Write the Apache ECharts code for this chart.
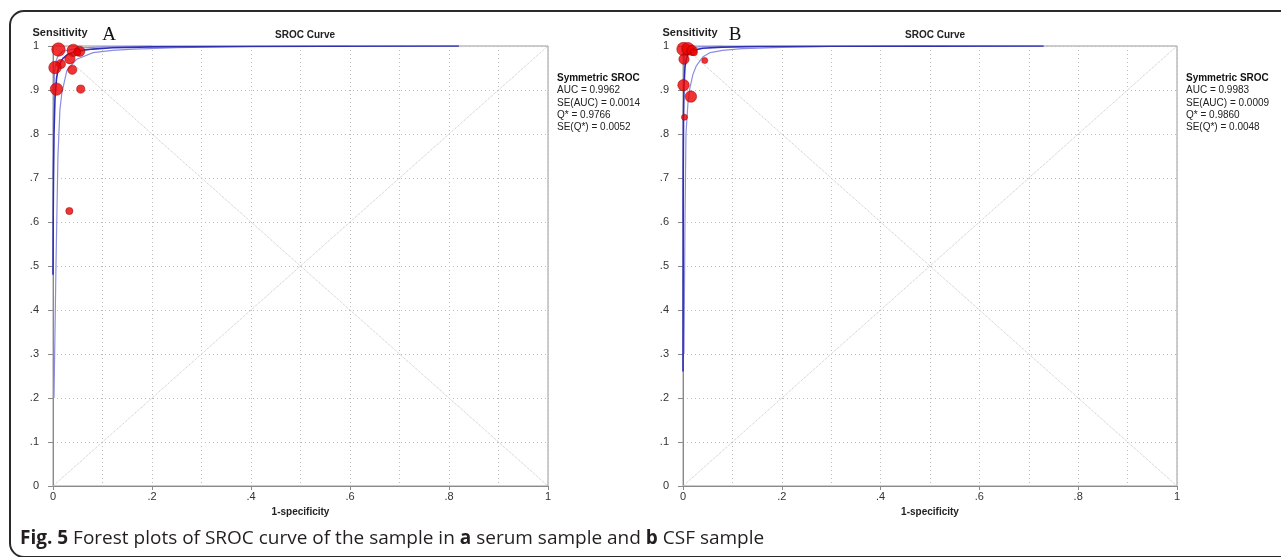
<!DOCTYPE html>
<html><head><meta charset="utf-8">
<script src="https://cdn.jsdelivr.net/npm/echarts@6/dist/echarts.min.js"></script>
<style>html,body{margin:0;padding:0;background:#fff}#c{width:1281px;height:557px}</style>
</head><body><div id="c"></div>
<script>
// ---- tick labels ----
const yTickLabels = ['0','.1','.2','.3','.4','.5','.6','.7','.8','.9','1'];
const xTickLabels = ['0','.2','.4','.6','.8','1'];

// ---- panel A (serum): studies [1-specificity, sensitivity, weight] ----
const studiesA = [
  [0.011, 0.992, 5.0], [0.041, 0.990, 4.4], [0.054, 0.988, 3.1], [0.049, 0.986, 1.3],
  [0.034, 0.971, 3.1], [0.016, 0.959, 2.5], [0.004, 0.951, 4.4], [0.039, 0.946, 2.5],
  [0.007, 0.902, 4.4], [0.056, 0.902, 1.9], [0.033, 0.625, 1.3]
];
// SROC curve A and its bounds
const curveA = [[0,0.48],[0.0005,0.63],[0.001,0.70],[0.002,0.80],[0.004,0.88],[0.007,0.925],[0.01,0.946],[0.015,0.962],[0.02,0.972],[0.03,0.981],[0.05,0.989],[0.08,0.993],[0.12,0.996],[0.2,0.998],[0.35,0.999],[0.55,0.9995],[0.82,1.0]];
const curveALow = [[0.002,0.2],[0.006,0.5],[0.01,0.75],[0.014,0.856],[0.018,0.894],[0.028,0.944],[0.048,0.970],[0.081,0.985],[0.12,0.99],[0.162,0.993],[0.25,0.996],[0.4,0.999],[0.6,1.0]];
const curveAHigh = [[0,0.7],[0.001,0.85],[0.003,0.94],[0.006,0.965],[0.01,0.978],[0.02,0.988],[0.05,0.995],[0.1,0.998],[0.2,1.0]];
const statsA = ['Symmetric SROC','AUC = 0.9962','SE(AUC) = 0.0014','Q* = 0.9766','SE(Q*) = 0.0052'];

// ---- panel B (CSF) ----
const studiesB = [
  [0.001, 0.993, 5.0], [0.010, 0.994, 4.4], [0.018, 0.990, 3.1], [0.022, 0.986, 1.3],
  [0.002, 0.970, 3.1], [0.044, 0.967, 0.6], [0.001, 0.911, 3.8], [0.016, 0.885, 3.8],
  [0.003, 0.838, 0.6]
];
const curveB = [[0,0.26],[0.0005,0.71],[0.001,0.83],[0.002,0.91],[0.004,0.952],[0.007,0.972],[0.01,0.98],[0.02,0.99],[0.04,0.995],[0.08,0.9975],[0.15,0.9988],[0.3,0.9995],[0.5,0.9998],[0.73,1.0]];
const curveBLow = [[0.002,0.3],[0.004,0.6],[0.006,0.8],[0.01,0.87],[0.014,0.905],[0.02,0.935],[0.027,0.955],[0.04,0.975],[0.055,0.985],[0.08,0.99],[0.12,0.994],[0.2,0.997],[0.3,0.999],[0.5,1.0]];
const curveBHigh = [[0,0.6],[0.001,0.92],[0.003,0.975],[0.01,0.993],[0.03,0.998],[0.08,1.0]];
const statsB = ['Symmetric SROC','AUC = 0.9983','SE(AUC) = 0.0009','Q* = 0.9860','SE(Q*) = 0.0048'];

const diagonal = [[0,0],[1,1]];
const antiDiagonal = [[0,1],[1,0]];
const panelLetters = ['A','B'];
const titleText = 'SROC Curve';
const yName = 'Sensitivity';
const xName = '1-specificity';
const captionBold1 = 'Fig. 5';
const captionText = ' Forest plots of SROC curve of the sample in ';
const captionA = 'a';
const captionMid = ' serum sample and ';
const captionB = 'b';
const captionEnd = ' CSF sample';

// ---- layout ----
const SANS = 'Liberation Sans, Arial, sans-serif';
const CAPFONT = 'Open Sans, Liberation Sans, sans-serif';
const grids = [
  {left: 53, top: 46, width: 495, height: 440},
  {left: 683, top: 46, width: 494, height: 440}
];
const gridLine = {type: [1, 3], color: '#bdbdbd', width: 1};

function xAxisFor(i) {
  return {
    type: 'value', gridIndex: i, min: 0, max: 1, interval: 0.2,
    axisLine: {show: true, onZero: false, lineStyle: {color: '#8a8a8a'}},
    axisTick: {show: true, length: 4, lineStyle: {color: '#8a8a8a'}},
    axisLabel: {formatter: v => xTickLabels[Math.round(v * 5)], color: '#333', fontSize: 11, margin: 5, fontFamily: SANS},
    splitLine: {show: true, lineStyle: gridLine},
    minorTick: {show: false, splitNumber: 2},
    minorSplitLine: {show: true, lineStyle: gridLine},
    name: xName, nameLocation: 'middle', nameGap: 16,
    nameTextStyle: {fontWeight: 'bold', fontSize: 10, color: '#222', fontFamily: SANS}
  };
}
function yAxisFor(i) {
  return {
    type: 'value', gridIndex: i, min: 0, max: 1, interval: 0.1,
    axisLine: {show: true, onZero: false, lineStyle: {color: '#8a8a8a'}},
    axisTick: {show: true, length: 5, lineStyle: {color: '#8a8a8a'}},
    axisLabel: {formatter: v => yTickLabels[Math.round(v * 10)], color: '#333', fontSize: 11, margin: 14, fontFamily: SANS},
    splitLine: {show: true, lineStyle: gridLine}
  };
}
function sizeOf(w) { return 5 + 1.7 * w; }

function panelSeries(i, studies, main, low, high) {
  const ref = {type: 'dotted', color: '#c4c4c4', width: 1};
  return [
    {type: 'line', xAxisIndex: i, yAxisIndex: i, data: diagonal, showSymbol: false, lineStyle: ref, silent: true, z: 1},
    {type: 'line', xAxisIndex: i, yAxisIndex: i, data: antiDiagonal, showSymbol: false, lineStyle: ref, silent: true, z: 1},
    {type: 'line', xAxisIndex: i, yAxisIndex: i, data: low, showSymbol: false, lineStyle: {color: '#8c8ce0', width: 1.2}, z: 3},
    {type: 'line', xAxisIndex: i, yAxisIndex: i, data: high, showSymbol: false, lineStyle: {color: '#8c8ce0', width: 1.2}, z: 3},
    {type: 'line', xAxisIndex: i, yAxisIndex: i, data: main, showSymbol: false, lineStyle: {color: '#2f2fb4', width: 1.6}, z: 4},
    {type: 'scatter', xAxisIndex: i, yAxisIndex: i, data: studies, symbolSize: d => sizeOf(d[2]),
     itemStyle: {color: '#ee0000', borderColor: '#8a0000', borderWidth: 0.6}, z: 5, clip: false}
  ];
}

function statsGraphic(x, lines) {
  return {
    type: 'text', left: x, top: 72,
    style: {
      text: '{b|' + lines[0] + '}\n' + lines.slice(1).join('\n'),
      fontSize: 10, fontFamily: SANS, fill: '#222', lineHeight: 12.3,
      rich: {b: {fontWeight: 'bold', fontSize: 10, fontFamily: SANS, fill: '#111', lineHeight: 12.3}}
    }
  };
}

const chart = echarts.init(document.getElementById('c'), null, {renderer: 'canvas'});
chart.setOption({
  animation: false,
  backgroundColor: '#fff',
  title: [
    {text: titleText, left: 300, top: 25, textAlign: 'center', textStyle: {fontSize: 10, fontWeight: 'bold', color: '#222', fontFamily: SANS}},
    {text: titleText, left: 930, top: 25, textAlign: 'center', textStyle: {fontSize: 10, fontWeight: 'bold', color: '#222', fontFamily: SANS}}
  ],
  grid: grids.map(g => Object.assign({show: true, borderColor: '#9a9a9a', borderWidth: 1, backgroundColor: 'transparent', containLabel: false}, g)),
  xAxis: [xAxisFor(0), xAxisFor(1)],
  yAxis: [yAxisFor(0), yAxisFor(1)],
  series: [].concat(
    panelSeries(0, studiesA, curveA, curveALow, curveAHigh),
    panelSeries(1, studiesB, curveB, curveBLow, curveBHigh)
  ),
  graphic: [
    {type: 'rect', shape: {x: 10, y: 11, width: 1300, height: 546, r: 14}, style: {fill: 'none', stroke: '#2a2a2a', lineWidth: 2}, silent: true, z: -1},
    {type: 'text', x: 60, y: 33, style: {text: yName, fontSize: 11, fontWeight: 'bold', fontFamily: SANS, fill: '#222', align: 'center', verticalAlign: 'middle'}},
    {type: 'text', x: 690, y: 33, style: {text: yName, fontSize: 11, fontWeight: 'bold', fontFamily: SANS, fill: '#222', align: 'center', verticalAlign: 'middle'}},
    {type: 'text', x: 109, y: 35, style: {text: panelLetters[0], fontSize: 19, fontFamily: 'Liberation Serif, serif', fill: '#111', align: 'center', verticalAlign: 'middle'}},
    {type: 'text', x: 735, y: 35, style: {text: panelLetters[1], fontSize: 19, fontFamily: 'Liberation Serif, serif', fill: '#111', align: 'center', verticalAlign: 'middle'}},
    statsGraphic(557, statsA),
    statsGraphic(1186, statsB),
    {type: 'text', x: 20, y: 539, style: {
      text: '{b|' + captionBold1 + '}' + captionText + '{b|' + captionA + '}' + captionMid + '{b|' + captionB + '}' + captionEnd,
      fontSize: 19, fontFamily: CAPFONT, fill: '#231f20', verticalAlign: 'middle',
      rich: {b: {fontSize: 19, fontWeight: 'bold', fontFamily: CAPFONT, fill: '#231f20'}}
    }}
  ]
});
</script>
</body></html>
